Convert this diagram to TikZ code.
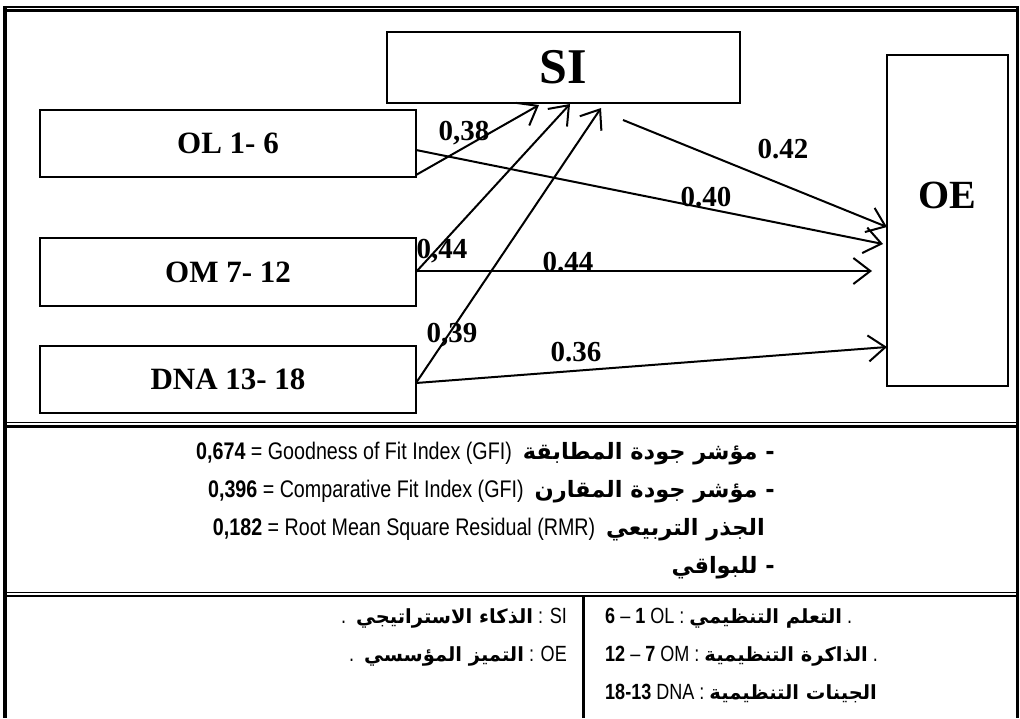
\documentclass[tikz,border=0pt]{standalone}
\usepackage{fontspec}
\usetikzlibrary{arrows.meta,calc}
\setmainfont{Liberation Serif}
\newfontfamily\narrowsans[FakeStretch=0.82]{Liberation Sans}
\newfontfamily\arabicfont[Script=Arabic]{DejaVu Sans}
\TeXXeTstate=1
\tikzset{
  varbox/.style={draw, line width=1.5pt, inner sep=0pt, outer sep=0pt,
    font=\fontsize{31}{31}\selectfont\bfseries},
  coef/.style={inner sep=0pt, font=\fontsize{29}{29}\selectfont\bfseries},
  path/.style={line width=2pt, -{Straight Barb[length=17pt,width=26pt]}},
  stat/.style={inner sep=0pt, anchor=base east, font=\fontsize{24}{24}\selectfont\narrowsans},
  leg/.style={inner sep=0pt, font=\fontsize{22}{22}\selectfont\narrowsans},
}
\newcommand{\ar}[1]{{\arabicfont\bfseries\fontsize{22.5}{22.5}\selectfont\beginR #1\endR}}
\newcommand{\arl}[1]{{\arabicfont\bfseries\fontsize{19.5}{19.5}\selectfont\beginR #1\endR}}
\begin{document}
\begin{tikzpicture}[x=1pt,y=-1pt]
\useasboundingbox (0,0) rectangle (1020,718);
% frame
\draw[line width=1.2pt] (3,7) -- (1019,7);
\draw[line width=2.2pt] (3,10.5) -- (1019,10.5);
\draw[line width=4pt] (5,7) -- (5,718);
\draw[line width=3pt] (1017,7) -- (1017,718);
\draw[line width=1.2pt] (5,422.5) -- (1017,422.5);
\draw[line width=2.2pt] (5,426.5) -- (1017,426.5);
\draw[line width=1.2pt] (5,592.5) -- (1017,592.5);
\draw[line width=2.2pt] (5,596) -- (1017,596);
\draw[line width=3pt] (583.5,596) -- (583.5,718);
% boxes
\node[varbox, minimum width=353pt, minimum height=71pt, font=\fontsize{50}{50}\selectfont\bfseries] (si) at (563.5,67.5) {SI};
\node[varbox, minimum width=121pt, minimum height=331pt, text depth=50pt, font=\fontsize{40}{40}\selectfont\bfseries] (oe) at (947.5,220.5) {OE};
\node[varbox, minimum width=376pt, minimum height=67pt] (ol) at (228,143.5) {OL 1- 6};
\node[varbox, minimum width=376pt, minimum height=68pt] (om) at (228,272) {OM 7- 12};
\node[varbox, minimum width=376pt, minimum height=67pt] (dna) at (228,379.5) {DNA 13- 18};
% paths
\draw[path] ([yshift=2pt]ol.south east) -- ([xshift=152pt,yshift=-2pt]si.south west);
\draw[path] (om.east) -- ([xshift=183pt,yshift=-1pt]si.south west);
\draw[path] ([yshift=-3.5pt]dna.east) -- ([xshift=214pt,yshift=-5pt]si.south west);
\draw[path] ([xshift=236pt,yshift=-17pt]si.south west) -- ([yshift=-172pt]oe.north west);
\draw[path] ([yshift=-6.5pt]ol.east) -- ([xshift=-4pt,yshift=-189pt]oe.north west);
\draw[path] ([yshift=1pt]om.east) -- ([xshift=-15pt,yshift=-216pt]oe.north west);
\draw[path] ([yshift=-3.5pt]dna.east) -- ([yshift=-292pt]oe.north west);
% coefficients
\node[coef] (c1) at (464,133) {0,38};
\node[coef] (c2) at (442,251) {0,44};
\node[coef] (c3) at (452,335) {0,39};
\node[coef] (c4) at (783,149) {0.42};
\node[coef] (c5) at (706,197) {0.40};
\node[coef] (c6) at (568,262) {0.44};
\node[coef] (c7) at (576,352) {0.36};
% fit statistics
\node[stat] (s1) at (775,459) {{\bfseries 0,674} = Goodness of Fit Index (GFI)\ \ \ar{- مؤشر جودة المطابقة}};
\node[stat] (s2) at (775,497) {{\bfseries 0,396} = Comparative Fit Index (GFI)\ \ \ar{- مؤشر جودة المقارن}};
\node[stat] (s3) at (765,535) {{\bfseries 0,182} = Root Mean Square Residual (RMR)\ \ \ar{الجذر التربيعي}};
\node[stat] (s4) at (775,573) {\ar{- للبواقي}};
% legend
\node[leg, anchor=base east] (g1) at (567,623) {.\ \ \arl{الذكاء الاستراتيجي} : SI};
\node[leg, anchor=base east] (g2) at (567,661) {.\ \ \arl{التميز المؤسسي} : OE};
\node[leg, anchor=base west] (g3) at (605,623) {{\bfseries 6} – {\bfseries 1} OL : \arl{التعلم التنظيمي} .};
\node[leg, anchor=base west] (g4) at (605,661) {{\bfseries 12} – {\bfseries 7} OM : \arl{الذاكرة التنظيمية} .};
\node[leg, anchor=base west] (g5) at (605,699) {{\bfseries 18-13} DNA : \arl{الجينات التنظيمية}};
\end{tikzpicture}
\end{document}
